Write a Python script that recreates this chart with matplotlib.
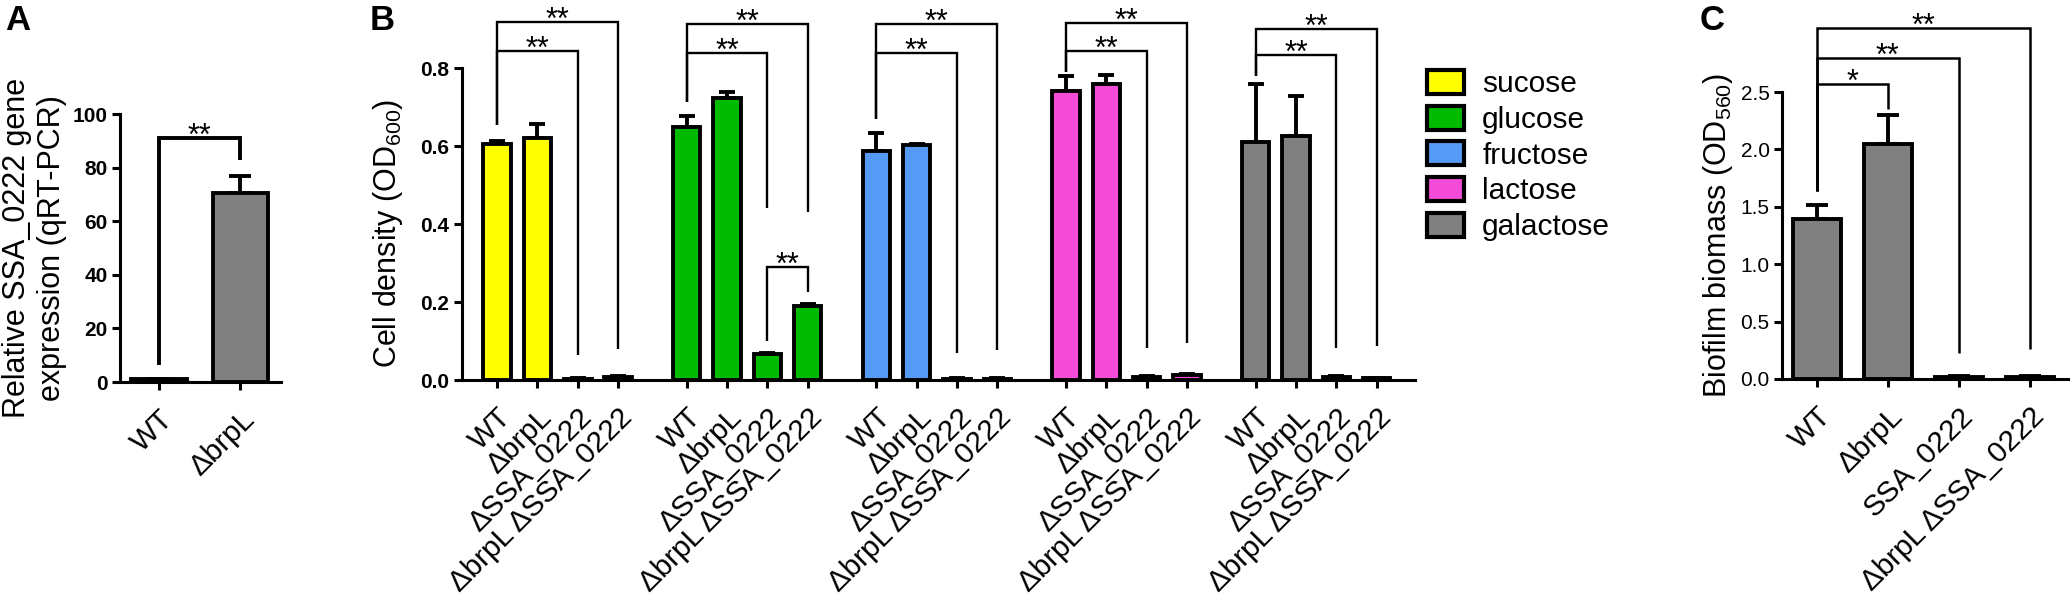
import numpy as np
import matplotlib
matplotlib.use("Agg")
import matplotlib.pyplot as plt
from matplotlib.patches import Patch

plt.rcParams['font.family'] = ['Liberation Sans', 'DejaVu Sans']
plt.rcParams['mathtext.default'] = 'regular'

# ---------------- data ----------------
# Panel A
a_strains = ["WT", "ΔbrpL"]
a_values = [1.0, 70.5]
a_errors = [0.3, 6.4]

# Panel B
b_strains = ["WT", "ΔbrpL", "ΔSSA_0222", "ΔbrpL ΔSSA_0222"]
b_sugars = ["sucose", "glucose", "fructose", "lactose", "galactose"]
b_colors = ["#FFFF00", "#00BB00", "#559BF5", "#F54BD9", "#808080"]
sucose_vals = [0.605, 0.621, 0.003, 0.007]
sucose_errs = [0.007, 0.035, 0.001, 0.002]
glucose_vals = [0.648, 0.723, 0.067, 0.190]
glucose_errs = [0.029, 0.016, 0.002, 0.005]
fructose_vals = [0.587, 0.603, 0.003, 0.003]
fructose_errs = [0.046, 0.002, 0.001, 0.001]
lactose_vals = [0.742, 0.758, 0.008, 0.012]
lactose_errs = [0.038, 0.025, 0.002, 0.003]
galactose_vals = [0.610, 0.626, 0.008, 0.004]
galactose_errs = [0.148, 0.102, 0.002, 0.001]

# Panel C
c_strains = ["WT", "ΔbrpL", "SSA_0222", "ΔbrpL ΔSSA_0222"]
c_values = [1.39, 2.05, 0.02, 0.02]
c_errors = [0.13, 0.25, 0.01, 0.01]

# significance annotations: (bar i, bar j, bracket height, leg bottom i, leg bottom j, label)
a_sig = [(0, 1, 91, 6.3, 83, "**")]
b_sig = [
    [(0, 2, 0.844, 0.654, 0.064, "**"), (0, 3, 0.918, 0.654, 0.080, "**")],
    [(0, 2, 0.838, 0.713, 0.440, "**"), (0, 3, 0.913, 0.713, 0.430, "**"),
     (2, 3, 0.290, 0.100, 0.226, "**")],
    [(0, 2, 0.838, 0.670, 0.070, "**"), (0, 3, 0.913, 0.670, 0.077, "**")],
    [(0, 2, 0.844, 0.790, 0.082, "**"), (0, 3, 0.916, 0.790, 0.095, "**")],
    [(0, 2, 0.833, 0.780, 0.082, "**"), (0, 3, 0.900, 0.780, 0.087, "**")],
]
c_sig = [(0, 1, 2.57, 1.64, 2.35, "*"), (0, 2, 2.80, 1.64, 0.23, "**"),
         (0, 3, 3.06, 1.64, 0.26, "**")]

# ---------------- style ----------------
BAR_W = 0.68
EDGE = 2.8
SPINE = 2.2
TICK_FS = 15
XLAB_FS = 21.3
YLAB_FS = 22
STAR_FS = 22


def style_axes(ax, bold=True):
    for s in ["top", "right"]:
        ax.spines[s].set_visible(False)
    for s in ["left", "bottom"]:
        ax.spines[s].set_linewidth(SPINE)
    ax.tick_params(axis="both", direction="out", width=SPINE, length=5.5,
                   labelsize=TICK_FS)
    ax.tick_params(axis="x", labelsize=XLAB_FS, pad=11)
    for lab in ax.get_yticklabels():
        lab.set_fontweight("bold" if bold else "normal")
    for lab in ax.get_xticklabels():
        lab.set_rotation(45)
        lab.set_ha("right")
        lab.set_rotation_mode("anchor")


def bars(ax, x, vals, errs, color, capsize=6):
    ax.errorbar(x, vals, yerr=[np.zeros(len(errs)), errs], fmt="none",
                ecolor="k", elinewidth=EDGE, capsize=capsize, capthick=EDGE,
                zorder=2, clip_on=False)
    ax.bar(x, vals, width=BAR_W, color=color, edgecolor="k", linewidth=EDGE,
           zorder=3, clip_on=False)


def bracket(ax, x1, x2, y, b1, b2, text, lw):
    ax.plot([x1, x1, x2, x2], [b1, y, y, b2], color="k", lw=lw,
            clip_on=False, solid_joinstyle="miter", solid_capstyle="butt",
            zorder=4)
    ax.annotate(text, xy=((x1 + x2) / 2, y), xytext=(0, -5),
                textcoords="offset points", ha="center", va="baseline",
                fontsize=STAR_FS, annotation_clip=False)


fig = plt.figure(figsize=(20.72, 6.09), dpi=100)
W, H = 2072, 609


def px_axes(l, r, top, bottom):
    return fig.add_axes([l / W, 1 - bottom / H, (r - l) / W, (bottom - top) / H])


# ---------------- Panel A ----------------
axA = px_axes(120, 281, 114, 382)
xa = np.arange(len(a_strains))
bars(axA, xa, a_values, a_errors, "#808080", capsize=8)
axA.set_xlim(-0.48, 1.5)
axA.set_ylim(0, 100)
axA.set_yticks(np.arange(0, 101, 20))
axA.set_xticks(xa)
axA.set_xticklabels(a_strains)
style_axes(axA, bold=True)
for i, j, y, b1, b2, t in a_sig:
    bracket(axA, xa[i], xa[j], y, b1, b2, t, 2.8)
axA.set_ylabel("Relative SSA_0222 gene\nexpression (qRT-PCR)", fontsize=YLAB_FS)
axA.yaxis.set_label_coords(-0.33, 0.5)

# ---------------- Panel B ----------------
axB = px_axes(462, 1415, 68, 380)
group_vals = [sucose_vals, glucose_vals, fructose_vals, lactose_vals, galactose_vals]
group_errs = [sucose_errs, glucose_errs, fructose_errs, lactose_errs, galactose_errs]
stride = 4.7
all_x, all_lab = [], []
for g, (v, e, c) in enumerate(zip(group_vals, group_errs, b_colors)):
    x = g * stride + np.arange(len(b_strains))
    bars(axB, x, v, e, c, capsize=6)
    all_x.extend(x)
    all_lab.extend(b_strains)
    for i, j, y, b1, b2, t in b_sig[g]:
        bracket(axB, x[i], x[j], y, b1, b2, t, 1.7)
axB.set_xlim(-0.87, 4 * stride + 3 + 0.95)
axB.set_ylim(0, 0.8)
axB.set_yticks(np.arange(0, 0.81, 0.2))
axB.set_yticklabels([f"{t:.1f}" for t in np.arange(0, 0.81, 0.2)])
axB.set_xticks(all_x)
axB.set_xticklabels(all_lab)
style_axes(axB, bold=True)
axB.set_ylabel("Cell density (OD$_{600}$)", fontsize=YLAB_FS)
axB.yaxis.set_label_coords(-0.06, 0.47)

handles = [Patch(facecolor=c, edgecolor="k", linewidth=3) for c in b_colors]
fig.legend(handles, b_sugars, loc="upper left",
           bbox_to_anchor=(1427 / W, 1 - 70 / H), bbox_transform=fig.transFigure,
           frameon=False, fontsize=21.5, handlelength=1.25, handleheight=0.85,
           handletextpad=0.6, labelspacing=0.25, borderpad=0, borderaxespad=0)

# ---------------- Panel C ----------------
axC = px_axes(1782, 2068, 92, 379)
xc = np.arange(len(c_strains))
bars(axC, xc, c_values, c_errors, "#808080", capsize=8)
axC.set_xlim(-0.49, 3.54)
axC.set_ylim(0, 2.5)
axC.set_yticks(np.arange(0, 2.51, 0.5))
axC.set_yticklabels([f"{t:.1f}" for t in np.arange(0, 2.51, 0.5)])
axC.set_xticks(xc)
axC.set_xticklabels(c_strains)
style_axes(axC, bold=False)
for i, j, y, b1, b2, t in c_sig:
    bracket(axC, xc[i], xc[j], y, b1, b2, t, 1.8)
axC.set_ylabel("Biofilm biomass (OD$_{560}$)", fontsize=YLAB_FS)
axC.yaxis.set_label_coords(-0.165, 0.5)

# panel letters
for lab, xp in [("A", 5), ("B", 370), ("C", 1700)]:
    fig.text(xp / W, 1 - 4 / H, lab, fontsize=25, fontweight="bold",
             ha="left", va="top")

fig.savefig("out.png", dpi=100)
